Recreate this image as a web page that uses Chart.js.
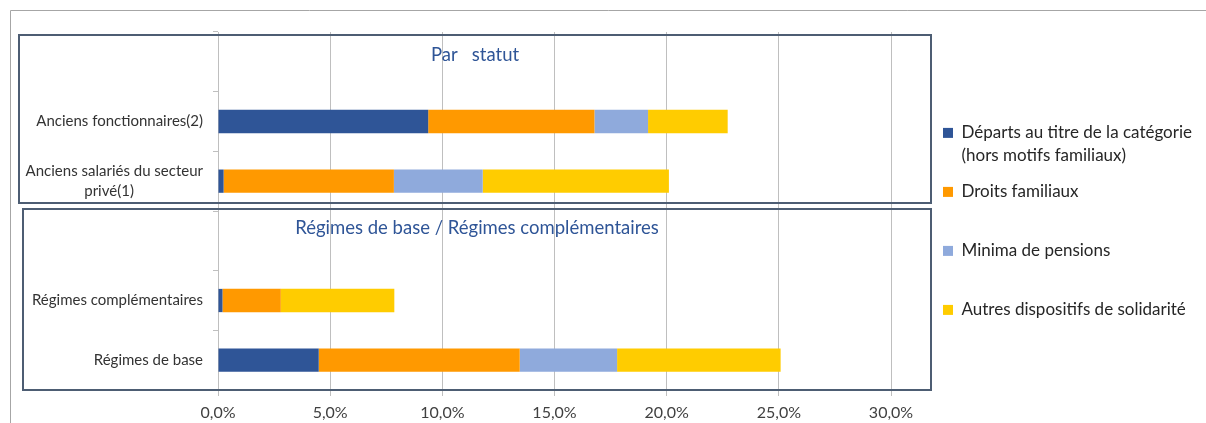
<!DOCTYPE html>
<html>
<head>
<meta charset="utf-8">
<script src="https://cdn.jsdelivr.net/npm/chart.js@4.4.1/dist/chart.umd.min.js"></script>
<style>
  html, body { margin: 0; padding: 0; background: #fff; }
  #wrap { width: 1206px; height: 423px; position: relative; }
</style>
</head>
<body>
<div id="wrap"><canvas id="c" width="1206" height="423"></canvas></div>
<script>
const categories = [
  '',
  'Anciens fonctionnaires(2)',
  ['Anciens salariés du secteur', 'privé(1)'],
  '',
  'Régimes complémentaires',
  'Régimes de base'
];
const groupTitles = ['Par   statut', 'Régimes de base / Régimes complémentaires'];
const groupTitleRows = [0, 3];

const seriesNames = [
  ['Départs au titre de la catégorie', '(hors motifs familiaux)'],
  ['Droits familiaux', ''],
  ['Minima de pensions', ''],
  ['Autres dispositifs de solidarité', '']
];
const departs   = [null, 9.37, 0.25, null, 0.20, 4.49];
const droitsFam = [null, 7.41, 7.59, null, 2.60, 8.96];
const minima    = [null, 2.39, 3.96, null, 0.00, 4.34];
const autres    = [null, 3.55, 8.30, null, 5.06, 7.29];
const xTicks = [0, 5, 10, 15, 20, 25, 30];

const colors = ['#2F5597', '#FF9900', '#8FAADC', '#FFCC00'];
const FONT = 'Lato, "Liberation Sans", sans-serif';

const seriesData = [departs, droitsFam, minima, autres];
const datasets = seriesData.map((d, i) => ({
  label: seriesNames[i],
  data: d,
  backgroundColor: colors[i],
  borderWidth: 0,
  categoryPercentage: 1.0,
  barPercentage: 0.39
}));

function fmtPct(v) { return v.toFixed(1).replace('.', ',') + '%'; }

const decor = {
  id: 'decor',
  afterDraw(chart) {
    const ctx = chart.ctx;
    const y = chart.scales.y;
    const area = chart.chartArea;
    const band = Math.abs(y.getPixelForValue(1) - y.getPixelForValue(0));
    const top = i => y.getPixelForValue(i) - band / 2;
    const bot = i => y.getPixelForValue(i) + band / 2;
    ctx.save();
    // outer frame
    ctx.strokeStyle = '#A6A6A6';
    ctx.lineWidth = 1;
    ctx.beginPath();
    ctx.moveTo(10.5, 423);
    ctx.lineTo(10.5, 10.5);
    ctx.lineTo(1206, 10.5);
    ctx.stroke();
    // group boxes
    const right = area.right + 40;
    ctx.strokeStyle = '#4D5D73';
    ctx.lineWidth = 2;
    const b1 = {l: 19, t: top(0) + 3, r: right, b: bot(2) - 8};
    const b2 = {l: 23, t: top(3) - 2, r: right, b: area.bottom};
    [b1, b2].forEach(b => ctx.strokeRect(b.l, b.t, b.r - b.l, b.b - b.t));
    // group titles
    ctx.fillStyle = '#2F5597';
    ctx.font = '18.5px ' + FONT;
    ctx.textAlign = 'center';
    ctx.textBaseline = 'middle';
    const offs = [-6.5, -13];
    [b1, b2].forEach((b, k) => {
      ctx.fillText(groupTitles[k], (b.l + b.r) / 2, y.getPixelForValue(groupTitleRows[k]) + offs[k]);
    });
    ctx.restore();
  }
};

new Chart(document.getElementById('c'), {
  type: 'bar',
  data: { labels: categories, datasets },
  options: {
    indexAxis: 'y',
    responsive: false,
    animation: false,
    layout: { padding: { top: 32, left: 0, right: 5, bottom: 0 } },
    scales: {
      x: {
        stacked: true,
        min: 0, max: 30,
        afterBuildTicks(s) { s.ticks = xTicks.map(v => ({ value: v })); },
        afterFit(s) { s.height = 33; },
        grid: { color: '#BFBFBF', lineWidth: 1, tickLength: 6, drawTicks: true },
        border: { display: false },
        ticks: {
          padding: 7,
          color: '#404040',
          font: { family: FONT, size: 16 },
          callback: v => fmtPct(v)
        }
      },
      y: {
        stacked: true,
        afterFit(s) { s.width = 218; },
        grid: { drawOnChartArea: false, drawTicks: true, tickLength: 5, color: '#BFBFBF', offset: true },
        border: { display: true, color: '#BFBFBF', width: 1 },
        ticks: {
          padding: 10,
          color: '#333333',
          font: { family: FONT, size: 15, lineHeight: 1.37 },
          callback: function(v, i) {
            const lab = categories[i];
            if (Array.isArray(lab)) {
              return [lab[0], lab[1] + '\u00A0'.repeat(18)];
            }
            return lab;
          }
        }
      },
      gap: {
        type: 'linear',
        position: 'right',
        display: true,
        grid: { display: false, drawTicks: false },
        border: { display: false },
        ticks: { display: false },
        afterFit(s) { s.width = 39; }
      }
    },
    plugins: {
      legend: {
        position: 'right',
        align: 'start',
        maxWidth: 271,
        title: { display: true, text: '', padding: { top: 65, bottom: 0 }, font: { size: 12 } },
        labels: {
          boxWidth: 10,
          boxHeight: 10,
          padding: 13,
          color: '#262626',
          font: { family: FONT, size: 17, lineHeight: 1.353 }
        }
      },
      tooltip: { enabled: false }
    }
  },
  plugins: [decor]
});
</script>
</body>
</html>
